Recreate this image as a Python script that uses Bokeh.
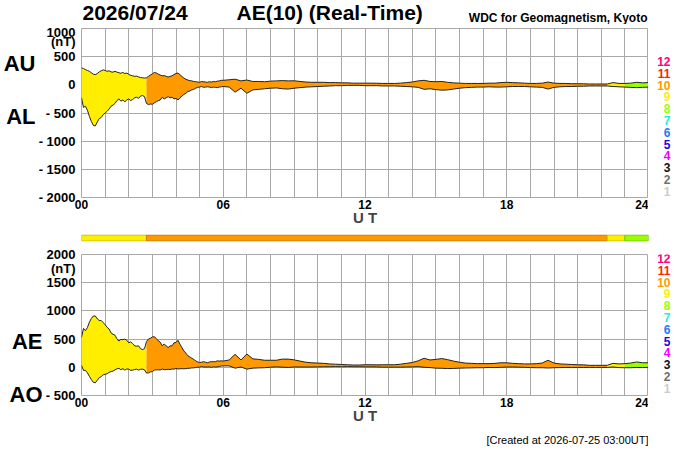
import numpy as np
from bokeh.plotting import figure
from bokeh.layouts import column, row
from bokeh.models import FixedTicker, Range1d, LinearAxis
from bokeh.core.properties import value
from bokeh.embed import file_html
from bokeh.resources import INLINE

# ---------------- data ----------------
t_early = np.arange(72) * 5.0 / 60.0          # 5-min samples, 00-06 UT
t_late = 6.0 + np.arange(73) * 0.25           # 15-min samples, 06-24 UT

au_early = [300, 290, 270, 255, 240, 215, 190, 180, 200, 230, 250, 265,
            255, 240, 250, 230, 225, 240, 225, 215, 205, 220, 200, 210,
            185, 170, 160, 150, 155, 140, 130, 125, 120, 125, 150, 175,
            195, 220, 210, 190, 175, 160, 165, 150, 140, 150, 160, 185,
            200, 210, 180, 150, 120, 100, 85, 75, 70, 60, 55, 50,
            45, 60, 55, 50, 45, 55, 50, 60, 55, 65, 70, 80]
al_early = [-230, -400, -380, -450, -560, -650, -720, -730, -660, -600, -580, -530,
            -500, -470, -430, -380, -360, -330, -280, -250, -290, -270, -300, -270,
            -250, -280, -260, -230, -220, -240, -200, -190, -210, -330, -350, -340,
            -345, -320, -300, -280, -270, -220, -250, -230, -210, -230, -220, -250,
            -240, -270, -230, -200, -170, -150, -120, -110, -90, -80, -60, -45,
            -40, -30, -45, -40, -35, -40, -50, -40, -45, -50, -40, -35]
au_late = [80, 90, 100, 70, 85, 60, 60, 55,
           65, 70, 75, 70, 72, 60, 50, 45,
           45, 45, 40, 40, 35, 35, 30, 30,
           30, 30, 28, 25, 25, 25, 30, 40,
           50, 70, 80, 60, 55, 60, 45, 35,
           30, 25, 25, 25, 25, 30, 30, 40,
           45, 40, 35, 30, 25, 25, 30, 50,
           30, 25, 25, 20, 20, 18, 15, 15,
           15, 15, 40, 25, 25, 30, 45, 35,
           40]
al_late = [-30, -40, -130, -60, -150, -90, -80, -70,
           -60, -55, -70, -75, -60, -50, -40, -35,
           -30, -25, -20, -15, -15, -10, -10, -10,
           -15, -15, -15, -20, -20, -20, -25, -30,
           -35, -45, -80, -70, -85, -95, -90, -75,
           -60, -50, -45, -40, -40, -35, -40, -40,
           -35, -30, -30, -30, -35, -40, -45, -75,
           -45, -35, -30, -30, -25, -25, -20, -20,
           -20, -20, -30, -35, -40, -45, -50, -45,
           -40]

# number of contributing stations per interval
seg_start = [0.0, 2.75, 22.25, 23.0]
seg_end = [2.75, 22.25, 23.0, 24.0]
seg_count = [9, 10, 9, 8]

station_numbers = [12, 11, 10, 9, 8, 7, 6, 5, 4, 3, 2, 1]
station_colors = {12: "#FF0080", 11: "#FF2200", 10: "#FF9900", 9: "#FFEE00",
                  8: "#99FF00", 7: "#22EEDD", 6: "#1E7BFF", 5: "#2200EE",
                  4: "#EE00FF", 3: "#111111", 2: "#707070", 1: "#CCCCCC"}
edge_colors = {10: "#CC7A00", 9: "#C8BE00", 8: "#77C800"}

x_ticks = [0, 6, 12, 18, 24]
x_labels = ["00", "06", "12", "18", "24"]
top_ticks = [1000, 500, 0, -500, -1000, -1500, -2000]
top_labels = ["1000", "500", "0", "- 500", "- 1000", "- 1500", "- 2000"]
bot_ticks = [2000, 1500, 1000, 500, 0, -500]
bot_labels = ["2000", "1500", "1000", "500", "0", "- 500"]

title_date = "2026/07/24"
title_index = "AE(10) (Real-Time)"
title_org = "WDC for Geomagnetism, Kyoto"
created_text = "[Created at 2026-07-25 03:00UT]"

t = np.concatenate([t_early, t_late])
AU = np.array(au_early + au_late, dtype=float)
AL = np.array(al_early + al_late, dtype=float)
AE = AU - AL
AO = (AU + AL) / 2.0

FONT = "Liberation Sans"
GRID = "#A8A8A8"
LINE = "#222222"
HPX = 567.0 / 24.0          # pixels per hour
TS = 3000.0 / 169.0         # nT per pixel, top panel
BS = 2500.0 / 141.0         # nT per pixel, bottom panel
HEAD = 24                   # height of the title strip


def xd(px):
    return (px - 81.0) / HPX


def yt(py):
    return 1000.0 - (py - 28.0) * TS


def yb(py):
    return 2000.0 - (py - 254.0) * BS


def blank(width, height, xr, yr, left=0, right=0, top=0, bottom=0):
    f = figure(width=width, height=height, x_range=xr, y_range=yr,
               output_backend="svg", toolbar_location=None,
               x_axis_location=None, y_axis_location=None,
               min_border_left=left, min_border_right=right,
               min_border_top=top, min_border_bottom=bottom)
    f.grid.visible = False
    f.outline_line_color = None
    f.background_fill_color = "white"
    f.border_fill_color = "white"
    return f


def put_text(f, xs, ys, texts, size, align="left", colors="black", style="bold"):
    f.text(x=xs, y=ys, text=texts, text_font=value(FONT), text_font_size=value(size),
           text_font_style=value(style), text_color=colors,
           text_align=align, text_baseline="middle")


def panel(ymin, ymax, ticks, labels, nt_tick, side_ticks, side_labels, height, btop, fheight):
    p = figure(width=648, height=height, x_range=Range1d(0, 24), y_range=Range1d(ymin, ymax),
               output_backend="svg", toolbar_location=None,
               min_border_left=81, min_border_right=0,
               min_border_top=btop, min_border_bottom=height - btop - fheight)
    p.background_fill_color = "white"
    p.border_fill_color = "white"
    p.outline_line_color = GRID
    p.xaxis.ticker = FixedTicker(ticks=x_ticks)
    p.xaxis.major_label_overrides = dict(zip(x_ticks, x_labels))
    p.yaxis.ticker = FixedTicker(ticks=ticks + [nt_tick])
    ov = dict(zip(ticks, labels))
    ov[nt_tick] = "(nT)"
    p.yaxis.major_label_overrides = ov
    side = LinearAxis(ticker=FixedTicker(ticks=side_ticks),
                      major_label_overrides=dict(zip(side_ticks, side_labels)))
    p.add_layout(side, "left")
    for ax in (p.xaxis[0], p.yaxis[0], side):
        ax.axis_line_color = None
        ax.major_tick_line_color = None
        ax.minor_tick_line_color = None
        ax.major_tick_out = 0
        ax.major_tick_in = 0
        ax.minor_tick_out = 0
        ax.minor_tick_in = 0
        ax.major_label_text_font = FONT
        ax.major_label_text_font_style = "bold"
        ax.major_label_text_color = "black"
    p.xaxis.major_label_text_font_size = "12px"
    p.yaxis[0].major_label_text_font_size = "13px"
    side.major_label_text_font_size = "22px"
    side.major_label_standoff = 0
    p.xaxis.major_label_standoff = 2
    p.yaxis[0].major_label_standoff = 6
    p.xaxis.axis_label = "U T"
    p.xaxis.axis_label_text_font = FONT
    p.xaxis.axis_label_text_font_size = "15px"
    p.xaxis.axis_label_text_font_style = "bold"
    p.xaxis.axis_label_standoff = -3
    p.xgrid.ticker = FixedTicker(ticks=list(range(25)))
    p.ygrid.ticker = FixedTicker(ticks=ticks)
    p.xgrid.grid_line_color = GRID
    p.ygrid.grid_line_color = GRID
    return p


def fill_segments(p, lo, hi):
    for s, e, n in zip(seg_start, seg_end, seg_count):
        m = (t >= s - 1e-9) & (t <= e + 1e-9)
        p.varea(x=t[m], y1=lo[m], y2=hi[m], fill_color=station_colors[n])
    p.line(t, hi, line_color=LINE, line_width=1)
    p.line(t, lo, line_color=LINE, line_width=1)


# ---------------- title strip (page y 0..24) ----------------
head = blank(700, HEAD, Range1d(0, 24), Range1d(0, HEAD), left=81, right=52)
put_text(head, [xd(82), xd(236)], [HEAD - 12, HEAD - 12], [title_date, title_index], "21px")
put_text(head, [xd(647)], [HEAD - 17], [title_org], "12px", align="right")

# ---------------- top panel: AU / AL (page y 24..232) ----------------
TOP_H = 232 - HEAD
top = panel(-2000, 1000, top_ticks, top_labels, 770, [380, -560], ["AU", "AL"],
            TOP_H, 28 - HEAD, 169)
fill_segments(top, AL, AU)
rt = blank(52, TOP_H, Range1d(648, 700), top.y_range)
put_text(rt, [670] * 12, [yt(61 + i * 11.8) for i in range(12)],
         [str(n) for n in station_numbers], "12px", align="right",
         colors=[station_colors[n] for n in station_numbers])

# ---------------- colour bar (page y 232..246) ----------------
cb = figure(width=700, height=14, x_range=top.x_range, y_range=Range1d(0, 1),
            output_backend="svg", toolbar_location=None,
            x_axis_location=None, y_axis_location=None,
            min_border_left=81, min_border_right=52, min_border_top=2, min_border_bottom=5)
cb.grid.visible = False
cb.outline_line_color = None
cb.background_fill_color = "white"
cb.quad(left=seg_start, right=seg_end, bottom=0.07, top=0.93,
        fill_color=[station_colors[n] for n in seg_count],
        line_color=[edge_colors[n] for n in seg_count], line_width=1)

# ---------------- bottom panel: AE / AO (page y 246..432) ----------------
bot = panel(-500, 2000, bot_ticks, bot_labels, 1750, [460, -480], ["AE", "AO"], 186, 8, 141)
fill_segments(bot, AO, AE)
rb = blank(52, 186, Range1d(648, 700), bot.y_range)
put_text(rb, [670] * 12, [yb(258 + i * 11.8) for i in range(12)],
         [str(n) for n in station_numbers], "12px", align="right",
         colors=[station_colors[n] for n in station_numbers])

# ---------------- footer (page y 432..450) ----------------
foot = blank(700, 18, top.x_range, Range1d(0, 18), left=81, right=52)
put_text(foot, [24], [18 - 7], [created_text], "11px", align="right", style="normal")

layout = column(head, row(top, rt, spacing=0), cb, row(bot, rb, spacing=0), foot, spacing=0)
open("out.html", "w").write(file_html(layout, INLINE))
